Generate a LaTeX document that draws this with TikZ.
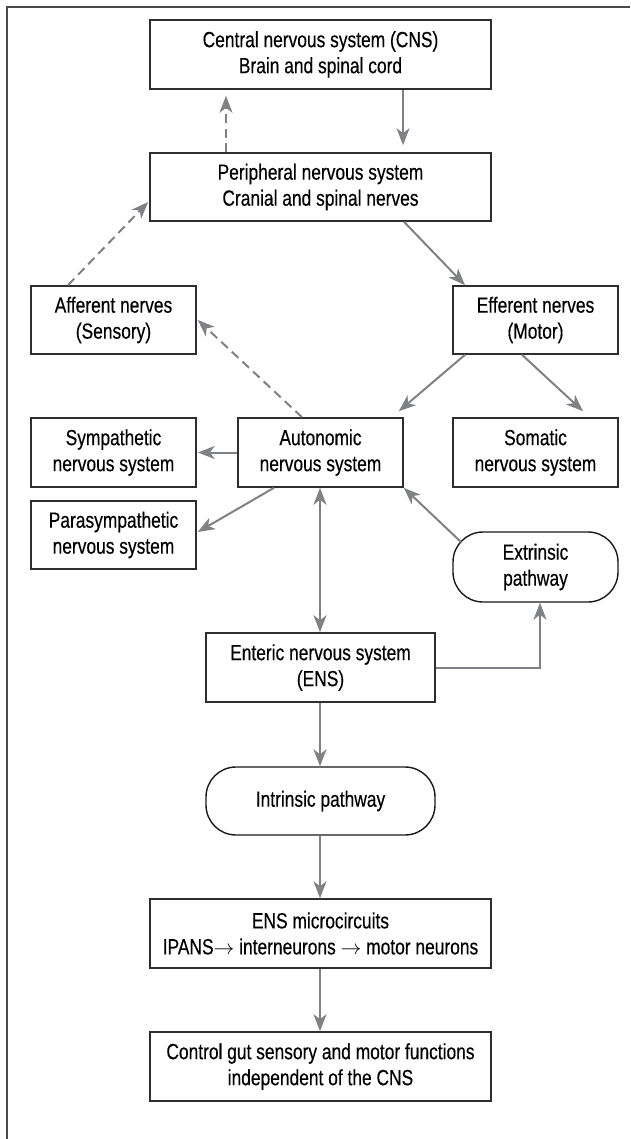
\documentclass[tikz,border=0pt]{standalone}
\usepackage{fontspec}
\setmainfont{Liberation Sans}[FakeStretch=0.79,FakeBold=0.35]
\usetikzlibrary{arrows.meta,calc}
\definecolor{arrowgray}{HTML}{808184}
\definecolor{boxline}{HTML}{2E2E2E}
\definecolor{framecol}{HTML}{4A4A4A}
\begin{document}
\begin{tikzpicture}[x=1pt,y=-1pt,
  every node/.style={font=\fontsize{22}{26}\selectfont, text=black},
  basebox/.style={draw=boxline, line width=1.6pt, align=center, inner sep=0pt, fill=white},
  wide/.style={basebox, minimum width=341pt, minimum height=69pt},
  narrow/.style={basebox, minimum width=165pt, minimum height=68pt},
  midbox/.style={basebox, minimum width=229pt, minimum height=69pt},
  pill/.style={basebox, rounded corners=30pt, line width=1.4pt, draw=black!90},
  arr/.style={draw=arrowgray, line width=2pt, -{Stealth[length=17pt,width=13pt,inset=5pt]}},
  darr/.style={arr, {Stealth[length=17pt,width=13pt,inset=5pt]}-{Stealth[length=17pt,width=13pt,inset=5pt]}},
  dasharr/.style={arr, dash pattern=on 9pt off 5.5pt}
]
\useasboundingbox (0,0) rectangle (630,1139);
\draw[framecol, line width=2pt] (7,1139) -- (7,7) -- (630,7);

\node[wide] (cns) at (320.5,54.5) {Central nervous system (CNS)\\Brain and spinal cord};
\node[wide, minimum height=68pt] (pns) at (320.5,187) {Peripheral nervous system\\Cranial and spinal nerves};
\node[narrow] (aff) at (113.5,320) {Afferent nerves\\(Sensory)};
\node[narrow] (eff) at (535.5,320) {Efferent nerves\\(Motor)};
\node[narrow, minimum height=69pt] (sym) at (113.5,452.5) {Sympathetic\\nervous system};
\node[narrow, minimum height=69pt] (aut) at (320.5,452.5) {Autonomic\\nervous system};
\node[narrow, minimum height=69pt] (som) at (535.5,452.5) {Somatic\\nervous system};
\node[narrow] (par) at (113.5,535) {Parasympathetic\\nervous system};
\node[narrow, pill, minimum height=70pt] (ext) at (535.5,567) {Extrinsic\\pathway};
\node[midbox] (ens) at (320.5,667.5) {Enteric nervous system\\(ENS)};
\node[midbox, pill, minimum height=68pt] (int) at (320.5,801) {Intrinsic pathway};
\node[wide] (mic) at (320.5,933.5) {ENS microcircuits\\IPANS$\rightarrow$ interneurons $\rightarrow$ motor neurons};
\node[wide] (ctl) at (320.5,1066.5) {Control gut sensory and motor functions\\independent of the CNS};

% connectors
\draw[arr] ([xshift=82.5pt]cns.south) -- ([xshift=82.5pt,yshift=7pt]pns.north);
\draw[dasharr] ([xshift=-94.5pt]pns.north) -- ([xshift=-94.5pt,yshift=-6pt]cns.south);
\draw[arr] ([xshift=83.5pt]pns.south) -- ([xshift=-70.5pt]eff.north);
\draw[dasharr] ([xshift=-45.5pt]aff.north) -- ([xshift=-1pt,yshift=-15pt]pns.west);
\draw[dasharr] ([xshift=-18.5pt]aut.north) -- ([xshift=1pt]aff.east);
\draw[arr] ([xshift=-70.5pt]eff.south) -- ([xshift=-5pt,yshift=6pt]aut.north east);
\draw[arr] ([xshift=-13.5pt]eff.south) -- ([xshift=47.5pt,yshift=6pt]som.north);
\draw[arr] (aut.west) -- ([xshift=1pt]sym.east);
\draw[arr] ([xshift=-46.5pt]aut.south) -- ([xshift=1pt,yshift=3pt]par.east);
\draw[arr] ([xshift=-74.5pt,yshift=25pt]ext.center) -- (aut.south east);
\draw[darr] ([xshift=-0.5pt]aut.south) -- ([xshift=-0.5pt]ens.north);
\draw[arr] (ens.east) -| ([xshift=4.5pt]ext.south);
\draw[arr] ([xshift=-0.5pt]ens.south) -- ([xshift=-0.5pt]int.north);
\draw[arr] ([xshift=-0.5pt]int.south) -- ([xshift=-0.5pt]mic.north);
\draw[arr] ([xshift=-0.5pt]mic.south) -- ([xshift=-0.5pt]ctl.north);
\end{tikzpicture}
\end{document}
